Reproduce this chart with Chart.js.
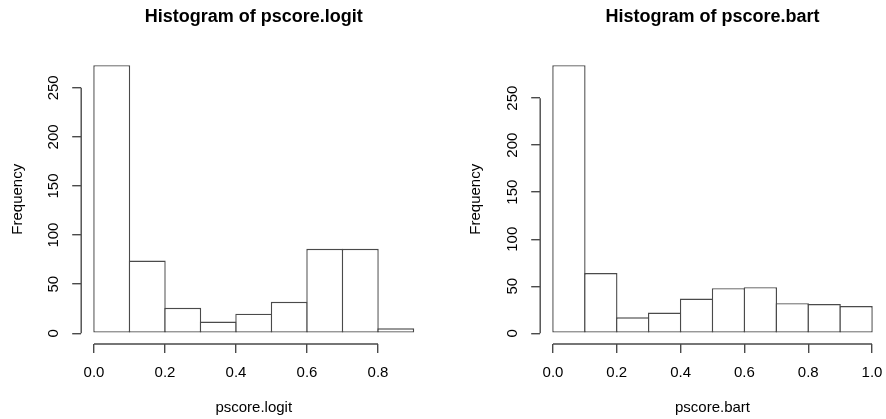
<!DOCTYPE html>
<html>
<head>
<meta charset="utf-8">
<script src="https://cdn.jsdelivr.net/npm/chart.js@4/dist/chart.umd.min.js"></script>
<style>
  html, body { margin: 0; padding: 0; background: #fff; overflow: hidden; width: 886px; height: 419px; }
  canvas { position: absolute; top: 0; }
  #c1 { left: 0; }
  #c2 { left: 443px; }
</style>
</head>
<body>
<canvas id="c1" width="443" height="419"></canvas>
<canvas id="c2" width="460" height="419"></canvas>
<script>
// ---- data ----
const logitBinStarts = [0.0, 0.1, 0.2, 0.3, 0.4, 0.5, 0.6, 0.7, 0.8];
const logitCounts    = [273, 74, 26, 12, 20, 32, 86, 86, 5];
const bartBinStarts  = [0.0, 0.1, 0.2, 0.3, 0.4, 0.5, 0.6, 0.7, 0.8, 0.9];
const bartCounts     = [285, 64, 17, 22, 37, 48, 49, 32, 31, 29];
const binWidth = 0.1;
const logitXTicks = [0.0, 0.2, 0.4, 0.6, 0.8];
const bartXTicks  = [0.0, 0.2, 0.4, 0.6, 0.8, 1.0];
const yTicks = [0, 50, 100, 150, 200, 250];

const FONT = "'Liberation Sans', Arial, Helvetica, sans-serif";
const LINE = '#4a4a4a';
const LW = 1.4;

const axisLines = {
  id: 'axisLines',
  afterDraw(chart) {
    const {ctx, chartArea, scales} = chart;
    const xs = scales.x, ys = scales.y;
    const xt = xs.ticks, yt = ys.ticks;
    ctx.save();
    ctx.strokeStyle = LINE;
    ctx.lineWidth = LW;
    ctx.beginPath();
    const xl = chartArea.left;
    ctx.moveTo(xl, ys.getPixelForValue(yt[0].value));
    ctx.lineTo(xl, ys.getPixelForValue(yt[yt.length - 1].value));
    const yb = chartArea.bottom;
    ctx.moveTo(xs.getPixelForValue(xt[0].value), yb);
    ctx.lineTo(xs.getPixelForValue(xt[xt.length - 1].value), yb);
    ctx.stroke();
    ctx.restore();
  }
};

function makeHist(id, title, xTitle, starts, counts, xTicks, yAxisWidth, yTitlePad, rightPad, barPct) {
  const data = starts.map((s, i) => ({x: s + binWidth / 2, y: counts[i]}));
  const xMin = starts[0], xMax = starts[starts.length - 1] + binWidth;
  const xr = xMax - xMin;
  const yMax = Math.max(...counts);
  new Chart(document.getElementById(id), {
    type: 'bar',
    data: {
      datasets: [{
        data: data,
        backgroundColor: '#ffffff',
        borderColor: LINE,
        borderWidth: LW,
        borderSkipped: false,
        barPercentage: barPct,
        categoryPercentage: 1
      }]
    },
    options: {
      responsive: false,
      animation: false,
      devicePixelRatio: 1,
      layout: { padding: { left: 0, top: 0, bottom: 0, right: rightPad } },
      plugins: {
        legend: { display: false },
        tooltip: { enabled: false },
        title: {
          display: true,
          text: title,
          fullSize: false,
          color: '#000',
          font: { family: FONT, size: 18, weight: 'bold', lineHeight: 1.2 },
          padding: { top: 6.2, bottom: 26.7 }
        }
      },
      scales: {
        x: {
          type: 'linear',
          offset: false,
          min: xMin - 0.04 * xr,
          max: xMax + 0.04 * xr,
          afterBuildTicks: (s) => { s.ticks = xTicks.map(v => ({value: v})); },
          afterFit: (s) => { s.height = 75; },
          grid: { offset: false, drawOnChartArea: false, drawTicks: true, tickLength: 9, color: LINE, lineWidth: LW },
          border: { display: false },
          ticks: {
            padding: 11,
            color: '#000',
            font: { family: FONT, size: 15 },
            maxRotation: 0, minRotation: 0,
            autoSkip: false,
            callback: (v) => Number(v).toFixed(1)
          },
          title: {
            display: true,
            text: xTitle,
            color: '#000',
            font: { family: FONT, size: 15, lineHeight: 1.2 },
            padding: { top: 0, bottom: 2 }
          }
        },
        y: {
          type: 'linear',
          min: -0.04 * yMax,
          max: 1.04 * yMax,
          afterBuildTicks: (s) => { s.ticks = yTicks.map(v => ({value: v})); },
          afterFit: (s) => { s.width = yAxisWidth; },
          grid: { drawOnChartArea: false, drawTicks: true, tickLength: 9, color: LINE, lineWidth: LW },
          border: { display: false },
          ticks: {
            padding: 5.7,
            crossAlign: 'center',
            minRotation: 90, maxRotation: 90,
            autoSkip: false,
            color: '#000',
            font: { family: FONT, size: 15 },
            callback: (v) => String(v)
          },
          title: {
            display: true,
            text: 'Frequency',
            color: '#000',
            font: { family: FONT, size: 15, lineHeight: 1.2 },
            padding: { top: yTitlePad, bottom: 0 }
          }
        }
      }
    },
    plugins: [axisLines]
  });
}

makeHist('c1', 'Histogram of pscore.logit', 'pscore.logit', logitBinStarts, logitCounts, logitXTicks, 81.2, 9, 16.7, 1.04);
makeHist('c2', 'Histogram of pscore.bart', 'pscore.bart', bartBinStarts, bartCounts, bartXTicks, 97.2, 24, 18.2, 1.044);
</script>
</body>
</html>
